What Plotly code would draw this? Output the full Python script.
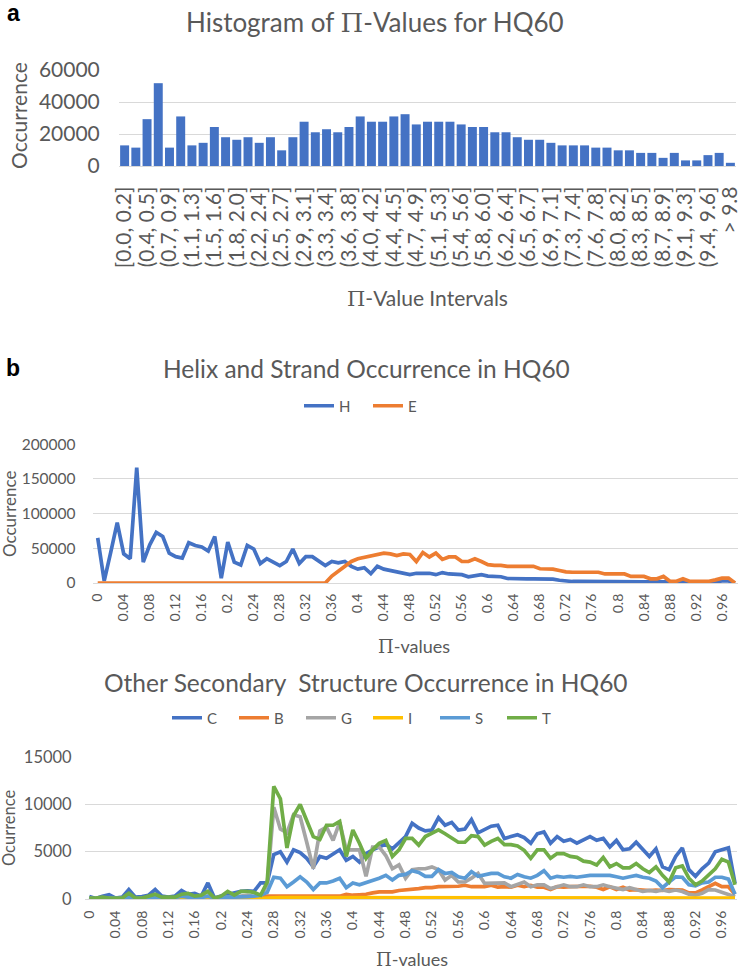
import plotly.graph_objects as go

W, H = 742, 969

# ---------------- Panel a: histogram ----------------
bins = ["[0.0, 0.2]", "(0.2, 0.4]", "(0.4, 0.5]", "(0.5, 0.7]", "(0.7, 0.9]", "(0.9, 1.1]",
        "(1.1, 1.3]", "(1.3, 1.5]", "(1.5, 1.6]", "(1.6, 1.8]", "(1.8, 2.0]", "(2.0, 2.2]",
        "(2.2, 2.4]", "(2.4, 2.5]", "(2.5, 2.7]", "(2.7, 2.9]", "(2.9, 3.1]", "(3.1, 3.3]",
        "(3.3, 3.4]", "(3.4, 3.6]", "(3.6, 3.8]", "(3.8, 4.0]", "(4.0, 4.2]", "(4.2, 4.4]",
        "(4.4, 4.5]", "(4.5, 4.7]", "(4.7, 4.9]", "(4.9, 5.1]", "(5.1, 5.3]", "(5.3, 5.4]",
        "(5.4, 5.6]", "(5.6, 5.8]", "(5.8, 6.0]", "(6.0, 6.2]", "(6.2, 6.4]", "(6.4, 6.5]",
        "(6.5, 6.7]", "(6.7, 6.9]", "(6.9, 7.1]", "(7.1, 7.3]", "(7.3, 7.4]", "(7.4, 7.6]",
        "(7.6, 7.8]", "(7.8, 8.0]", "(8.0, 8.2]", "(8.2, 8.3]", "(8.3, 8.5]", "(8.5, 8.7]",
        "(8.7, 8.9]", "(8.9, 9.1]", "(9.1, 9.3]", "(9.3, 9.4]", "(9.4, 9.6]", "(9.6, 9.8]",
        "> 9.8"]
hist_counts = [12900, 11500, 29300, 51800, 11500, 31000, 12900, 14500, 24400, 18000,
               16400, 18000, 14500, 18000, 9800, 18000, 27700, 21100, 23000, 21100,
               24400, 31000, 27700, 27700, 31000, 32400, 26000, 27700, 27700, 27700,
               26000, 24400, 24400, 21100, 21100, 18000, 16400, 16400, 14500, 12900,
               12900, 12900, 11500, 11500, 9800, 9800, 8200, 8200, 5100, 8200,
               3500, 3500, 6800, 8200, 2000]

# ---------------- Panels b, c: x categories 0.00 .. 0.98 ----------------
pi_values = [round(i / 100, 2) for i in range(99)]

helix = [65000, 3000, 44000, 87000, 42000, 35000, 166000, 30000, 55000, 73000,
         67000, 43000, 38000, 36000, 58000, 54000, 52000, 46000, 67000, 7000,
         59000, 30000, 26000, 54000, 49000, 28000, 35000, 30000, 25000, 31000,
         49000, 28000, 38000, 38000, 31000, 25000, 31000, 29000, 31000, 24000,
         20000, 22000, 13500, 24000, 20000, 18000, 17000, 14000, 12000, 14000,
         14000, 14000, 12000, 15000, 13000, 13000, 12000, 9000, 10000, 12000,
         10000, 10000, 9000, 6500, 6000, 6000, 6000, 6000, 6000, 6000,
         5500, 4000, 2500, 2200, 2200, 2000, 2000, 2000, 2000, 2000,
         1800, 1800, 1800, 1500, 1500, 1500, 1200, 1200, 1200, 1500,
         2000, 1200, 1000, 1000, 1000, 1500, 3000, 3000, 0]
strand = [0, 0, 0, 0, 0, 0, 0, 0, 0, 0,
          0, 0, 0, 0, 0, 0, 0, 0, 0, 0,
          0, 0, 0, 0, 0, 0, 0, 0, 0, 0,
          0, 0, 0, 0, 0, 0, 10000, 17000, 24000, 31000,
          35000, 37000, 39000, 41000, 43000, 42000, 39500, 42000, 41000, 31000,
          44000, 37500, 43000, 34000, 37500, 37500, 31000, 31000, 35000, 31000,
          26500, 25500, 25500, 24000, 24000, 24000, 24000, 24000, 20500, 20500,
          20000, 18000, 16000, 15500, 15500, 15500, 15500, 15500, 13000, 13000,
          13000, 13000, 9500, 9500, 9500, 6000, 6000, 9500, 2500, 2500,
          6000, 2500, 2500, 2500, 2500, 4500, 7000, 7000, 0]

coil = [250, 50, 300, 450, 100, 200, 1000, 200, 250, 400,
        1000, 300, 200, 300, 900, 500, 600, 300, 1700, 100,
        300, 500, 700, 800, 850, 800, 1700, 1700, 4700, 5000,
        3900, 5200, 4900, 4300, 3400, 4500, 4300, 4700, 5200, 4100,
        4500, 3900, 4800, 5200, 5500, 5800, 5300, 6000, 6600, 8000,
        7500, 7200, 7300, 8600, 7800, 8100, 7300, 7400, 8400, 7000,
        7400, 7700, 7800, 6400, 6600, 6800, 6500, 5900, 6900, 7100,
        5900, 6600, 6100, 6300, 5900, 6200, 6600, 6200, 6400, 5500,
        6200, 5200, 5300, 6000, 5200, 4500, 5300, 3400, 3100, 4500,
        5400, 3100, 2400, 3200, 3800, 5000, 5200, 5400, 1650]
bridge = [0, 0, 0, 0, 0, 0, 0, 0, 0, 0,
          0, 0, 0, 0, 0, 0, 0, 0, 0, 0,
          0, 0, 0, 0, 0, 0, 200, 300, 300, 300,
          300, 300, 300, 300, 300, 300, 300, 300, 300, 500,
          400, 450, 500, 650, 750, 750, 750, 900, 950, 1000,
          1100, 1200, 1200, 1300, 1300, 1300, 1350, 1450, 1300, 1300,
          1300, 1450, 1250, 1300, 1250, 1450, 1300, 1450, 1250, 1250,
          1000, 1300, 1250, 1300, 1300, 1300, 1350, 1250, 1000, 1300,
          1000, 1250, 950, 1000, 950, 900, 950, 900, 1000, 950,
          950, 650, 650, 950, 1350, 1650, 1300, 1300, 500]
helix310 = [100, 0, 100, 100, 0, 100, 200, 0, 100, 100,
            200, 100, 100, 100, 200, 200, 100, 100, 300, 100,
            100, 200, 200, 300, 400, 250, 300, 1500, 9700, 7400,
            7000, 8900, 8700, 6000, 3200, 7200, 7600, 6200, 8100, 5200,
            5200, 5200, 2400, 5500, 5500, 4600, 3200, 3600, 2200, 3100,
            3200, 3200, 3400, 3100, 2000, 2500, 1800, 1800, 2200, 2700,
            1650, 1650, 1700, 1700, 1300, 1500, 1800, 1300, 1500, 1500,
            1100, 1300, 1500, 1300, 1300, 1500, 1300, 1300, 1500, 1300,
            1100, 1000, 1200, 950, 800, 900, 800, 950, 800, 950,
            800, 500, 400, 600, 1000, 950, 700, 500, 250]
pihelix = [0, 0, 0, 0, 0, 0, 0, 0, 0, 0,
           0, 0, 0, 0, 0, 0, 0, 0, 0, 0,
           0, 0, 0, 0, 0, 0, 50, 100, 150, 150,
           150, 150, 150, 150, 150, 150, 150, 150, 150, 150,
           150, 150, 150, 150, 150, 150, 150, 150, 150, 150,
           150, 150, 150, 150, 150, 150, 150, 150, 150, 150,
           150, 150, 150, 150, 150, 150, 150, 150, 150, 150,
           150, 150, 150, 150, 150, 150, 150, 150, 150, 150,
           150, 150, 150, 150, 150, 150, 150, 150, 150, 150,
           150, 150, 150, 150, 150, 150, 150, 150, 100]
bend = [50, 0, 100, 100, 50, 100, 200, 50, 100, 100,
        200, 100, 100, 150, 300, 200, 200, 150, 300, 100,
        100, 200, 200, 200, 250, 300, 400, 700, 2300, 2200,
        1300, 1800, 2350, 1800, 1000, 1700, 1700, 1900, 2200, 1200,
        1700, 1500, 1700, 2000, 2200, 2500, 2000, 2500, 2600, 3000,
        2800, 2400, 2400, 3100, 2700, 2800, 2350, 2200, 2900, 2400,
        2600, 2700, 2700, 2350, 2200, 2600, 2350, 2200, 2500, 3000,
        2200, 2400, 2300, 2400, 2300, 2400, 2500, 2500, 2500, 2500,
        2350, 2200, 2350, 2500, 2300, 2200, 1900, 1200, 1800, 2350,
        2300, 1500, 1400, 1700, 1800, 2300, 2300, 2100, 500]
turn = [100, 100, 200, 100, 100, 100, 600, 100, 100, 300,
        500, 200, 200, 200, 500, 600, 300, 400, 800, 100,
        300, 800, 400, 800, 800, 700, 400, 1800, 11900, 10600,
        5400, 8800, 10000, 8300, 6600, 6300, 7800, 7800, 8200, 4500,
        7300, 5900, 4300, 5200, 5900, 6200, 4500, 5200, 6400, 6400,
        5700, 6600, 7000, 7300, 6900, 6400, 6000, 6000, 6700, 6600,
        5700, 6100, 6400, 5750, 5750, 5600, 5150, 4300, 5200, 5200,
        4300, 4800, 4800, 4500, 4400, 4000, 3900, 3600, 4400, 3400,
        3750, 3300, 3300, 3750, 3200, 2800, 3400, 2500, 1800, 3300,
        3500, 2200, 1500, 1900, 2500, 3200, 4200, 3900, 1500]

tick_vals = pi_values[::4]
tick_text = [f"{v:g}" for v in tick_vals]

BLUE, ORANGE, GRAY, YELLOW, LBLUE, GREEN = "#4472C4", "#ED7D31", "#A5A5A5", "#FFC000", "#5B9BD5", "#70AD47"
TXT = "#595959"
GRID = "#D9D9D9"
FONT = "Lato, 'Open Sans', sans-serif"
PI = "<span style=\"font-family:'DejaVu Serif', serif\">Π</span>"


def px_x(p):
    return p / W


def px_y(p):
    return 1 - p / H


fig = go.Figure()

fig.add_trace(go.Bar(x=bins, y=hist_counts, marker=dict(color=BLUE, line=dict(width=0)),
                     xaxis="x", yaxis="y", showlegend=False))

LW = 3.7
fig.add_trace(go.Scatter(x=pi_values, y=helix, mode="lines", name="H", line=dict(color=BLUE, width=LW),
                         xaxis="x2", yaxis="y2", legend="legend"))
fig.add_trace(go.Scatter(x=pi_values, y=strand, mode="lines", name="E", line=dict(color=ORANGE, width=LW),
                         xaxis="x2", yaxis="y2", legend="legend"))

for name, vals, col in [("C", coil, BLUE), ("B", bridge, ORANGE), ("G", helix310, GRAY),
                        ("I", pihelix, YELLOW), ("S", bend, LBLUE), ("T", turn, GREEN)]:
    fig.add_trace(go.Scatter(x=pi_values, y=vals, mode="lines", name=name, line=dict(color=col, width=LW),
                             xaxis="x3", yaxis="y3", legend="legend2"))

TRANSP = "rgba(0,0,0,0)"

fig.update_layout(
    width=W, height=H,
    margin=dict(l=0, r=0, t=0, b=0, pad=0, autoexpand=False),
    paper_bgcolor="white", plot_bgcolor="white",
    font=dict(family=FONT, color=TXT),
    bargap=0.2,
    xaxis=dict(domain=[px_x(119), px_x(736)], type="category", anchor="y", automargin=False,
               tickmode="array", tickvals=bins[::2], ticktext=bins[::2], tickangle=-90,
               tickfont=dict(size=21, color=TXT, family=FONT), showgrid=False,
               showline=True, linecolor=GRID, linewidth=1.3,
               ticks="outside", ticklen=11, tickcolor=TRANSP),
    yaxis=dict(domain=[px_y(166), px_y(70)], range=[0, 60050], anchor="x", automargin=False,
               tickmode="linear", tick0=0, dtick=20000, tickformat="d",
               tickfont=dict(size=21, color=TXT, family=FONT),
               showgrid=True, gridcolor=GRID, gridwidth=1.3, zeroline=False,
               ticks="outside", ticklen=14, tickcolor=TRANSP),
    xaxis2=dict(domain=[px_x(92.7), px_x(738)], range=[-0.0077, 0.9846], anchor="y2", automargin=False,
                tickmode="array", tickvals=tick_vals, ticktext=tick_text, tickangle=-90,
                tickfont=dict(size=14, color=TXT, family=FONT), showgrid=False, zeroline=False,
                showline=True, linecolor=GRID, linewidth=1.3,
                ticks="outside", ticklen=4, tickcolor=TRANSP),
    yaxis2=dict(domain=[px_y(583), px_y(444)], range=[0, 200200], anchor="x2", automargin=False,
                tickmode="linear", tick0=0, dtick=50000, tickformat="d",
                tickfont=dict(size=15.5, color=TXT, family=FONT),
                showgrid=True, gridcolor=GRID, gridwidth=1.3, zeroline=False,
                ticks="outside", ticklen=13, tickcolor=TRANSP),
    xaxis3=dict(domain=[px_x(85), px_x(737)], range=[-0.0065, 0.983], anchor="y3", automargin=False,
                tickmode="array", tickvals=tick_vals, ticktext=tick_text, tickangle=-90,
                tickfont=dict(size=14, color=TXT, family=FONT), showgrid=False, zeroline=False,
                showline=True, linecolor=GRID, linewidth=1.3,
                ticks="outside", ticklen=5, tickcolor=TRANSP),
    yaxis3=dict(domain=[px_y(899), px_y(757)], range=[0, 15015], anchor="x3", automargin=False,
                tickmode="linear", tick0=0, dtick=5000, tickformat="d",
                tickfont=dict(size=16.5, color=TXT, family=FONT),
                showgrid=True, gridcolor=GRID, gridwidth=1.3, zeroline=False,
                ticks="outside", ticklen=9, tickcolor=TRANSP),
    legend=dict(orientation="h", x=px_x(368), xanchor="center", y=px_y(406), yanchor="middle",
                font=dict(size=15, color=TXT, family=FONT), bgcolor=TRANSP,
                entrywidth=24, entrywidthmode="pixels"),
    legend2=dict(orientation="h", x=px_x(368), xanchor="center", y=px_y(718), yanchor="middle",
                 font=dict(size=15, color=TXT, family=FONT), bgcolor=TRANSP,
                 entrywidth=22, entrywidthmode="pixels"),
)

ann = []


def add_text(text, x, y, size, color=TXT, angle=0, family=FONT):
    ann.append(dict(text=text, x=px_x(x), y=px_y(y), xref="paper", yref="paper",
                    showarrow=False, xanchor="center", yanchor="middle", textangle=angle,
                    font=dict(size=size, color=color, family=family)))


add_text("<b>a</b>", 13, 13, 23, color="black", family="'Liberation Sans', Arial, sans-serif")
add_text("<b>b</b>", 13, 368, 23, color="black", family="'Liberation Sans', Arial, sans-serif")
add_text(f"Histogram of {PI}-Values for HQ60", 375, 22, 26)
add_text("Occurrence", 18, 116, 21, angle=-90)
add_text(f"{PI}-Value Intervals", 427, 298, 21)
add_text("Helix and Strand Occurrence in HQ60", 366, 368, 24.5)
add_text("Occurrence", 9, 514, 17, angle=-90)
add_text(f"{PI}-values", 414, 646, 18)
add_text("Other Secondary\u00a0 Structure Occurrence in HQ60", 366, 682, 24.5)
add_text("Ocurrence", 9, 828, 16.5, angle=-90)
add_text(f"{PI}-values", 412, 959, 18)

fig.update_layout(annotations=ann)

fig.write_html("out.html",
               config={"displayModeBar": False},
               post_script="document.body.style.margin='0px';document.body.style.overflow='hidden';")
